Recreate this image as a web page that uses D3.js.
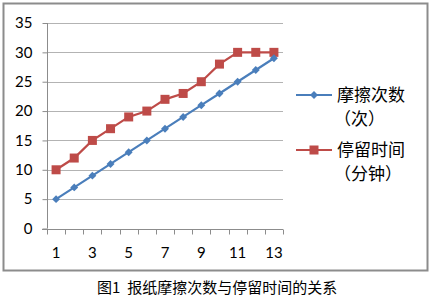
<!DOCTYPE html>
<html><head><meta charset="utf-8">
<script src="https://cdn.jsdelivr.net/npm/d3@7"></script>
<style>body{margin:0;background:#fff;}svg{display:block;}</style>
</head><body>
<svg id="c" width="430" height="301"></svg>
<script>
const categories = [1,2,3,4,5,6,7,8,9,10,11,12,13];
const rubCount = [5,7,9,11,13,15,17,19,21,23,25,27,29];
const stayTime = [10,12,15,17,19,20,22,23,25,28,30,30,30];
const yTicks = [0,5,10,15,20,25,30,35];
const xTickLabels = [1,3,5,7,9,11,13];
const seriesNames = [["摩擦次数","（次）"],["停留时间","（分钟）"]];
const captionParts = ["图1","报纸摩擦次数与停留时间的关系"];

const svg = d3.select("#c");
const numFont = "Lato, 'Open Sans', sans-serif";
const cjkFont = "'Noto Sans CJK SC', sans-serif";

svg.append("rect").attr("x",3.5).attr("y",3.5).attr("width",424).attr("height",267)
  .attr("fill","#fff").attr("stroke","#8c8c8c").attr("stroke-width",2);

const x = d3.scaleBand().domain(categories).range([47,283]).padding(0);
const y = d3.scaleLinear().domain([0,35]).range([228.5,23]);

// gridlines
svg.append("g").selectAll("line").data(yTicks.filter(d=>d>0)).join("line")
  .attr("x1",47).attr("x2",283).attr("y1",d=>Math.round(y(d))+0.5).attr("y2",d=>Math.round(y(d))+0.5)
  .attr("stroke","#b3b3b3").attr("stroke-width",1);

// y axis
const yAxis = d3.axisLeft(y).tickValues(yTicks).tickSize(5).tickPadding(10);
const gy = svg.append("g").attr("transform","translate(47.5,0)").call(yAxis);
gy.select(".domain").attr("stroke","#8c8c8c").attr("d","M0,"+y(35)+"V"+y(0));
gy.selectAll(".tick line").attr("stroke","#8c8c8c");
gy.selectAll("text").attr("font-family",numFont).attr("font-size",15).attr("fill","#000");

// x axis
const gx = svg.append("g").attr("transform","translate(0,"+(Math.round(y(0))+0.5)+")");
gx.append("line").attr("x1",42).attr("x2",283).attr("stroke","#8c8c8c");
const edges = categories.map(c=>x(c)).concat([x(13)+x.bandwidth()]);
gx.selectAll(".tk").data(edges).join("line").attr("class","tk")
  .attr("x1",d=>Math.round(d)+0.5).attr("x2",d=>Math.round(d)+0.5).attr("y1",0).attr("y2",5)
  .attr("stroke","#8c8c8c");
gx.selectAll("text").data(xTickLabels).join("text")
  .attr("x",d=>x(d)+x.bandwidth()/2).attr("y",28).attr("text-anchor","middle")
  .attr("font-family",numFont).attr("font-size",15).attr("fill","#000").text(d=>d);

const line = d3.line().x((d,i)=>x(categories[i])+x.bandwidth()/2).y(d=>y(d));
const blue = "#4a7ebb", red = "#be4b48";

svg.append("path").datum(stayTime).attr("d",line).attr("fill","none").attr("stroke",red).attr("stroke-width",2.2);
svg.append("path").datum(rubCount).attr("d",line).attr("fill","none").attr("stroke",blue).attr("stroke-width",2.2);

svg.append("g").selectAll("rect").data(stayTime).join("rect")
  .attr("x",(d,i)=>x(categories[i])+x.bandwidth()/2-4.5).attr("y",d=>y(d)-4.5)
  .attr("width",9).attr("height",9).attr("fill",red);
const diamond = d3.symbol().type(d3.symbolDiamond2).size(40);
svg.append("g").selectAll("path").data(rubCount).join("path")
  .attr("transform",(d,i)=>"translate("+(x(categories[i])+x.bandwidth()/2)+","+y(d)+")")
  .attr("d",diamond).attr("fill",blue);

// legend
const lg = svg.append("g");
const legY = [95,150];
[blue,red].forEach((col,k)=>{
  lg.append("line").attr("x1",296).attr("x2",332).attr("y1",legY[k]).attr("y2",legY[k]).attr("stroke",col).attr("stroke-width",2.2);
  if(k===0){
    lg.append("path").attr("transform","translate(314,"+legY[k]+")").attr("d",diamond).attr("fill",col);
  } else {
    lg.append("rect").attr("x",309.5).attr("y",legY[k]-4.5).attr("width",9).attr("height",9).attr("fill",col);
  }
  lg.append("text").attr("x",337).attr("y",legY[k]).attr("dy","0.36em")
    .attr("font-family",cjkFont).attr("font-size",17).attr("fill","#000").text(seriesNames[k][0]);
  lg.append("text").attr("x",334).attr("y",legY[k]+24).attr("dy","0.36em")
    .attr("font-family",cjkFont).attr("font-size",17).attr("fill","#000").text(seriesNames[k][1]);
});

const cap = svg.append("text").attr("x",97).attr("y",288).attr("dy","0.36em")
  .attr("font-family",cjkFont).attr("font-size",15).attr("fill","#000");
cap.append("tspan").text(captionParts[0]);
cap.append("tspan").attr("dx",7).text(captionParts[1]);
</script>
</body></html>
